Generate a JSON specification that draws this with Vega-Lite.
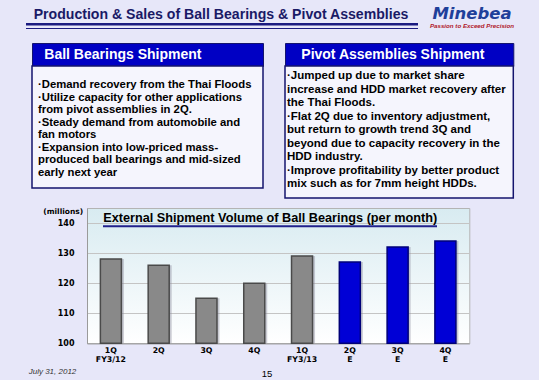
{
  "$schema": "https://vega.github.io/schema/vega-lite/v6.json",
  "background": "#e7e7f9",
  "padding": 0,
  "spacing": 0,
  "bounds": "full",
  "data": {"values": [{}]},
  "config": {"view": {"stroke": null}, "font": "Liberation Sans", "concat": {"spacing": 0}},
  "vconcat": [
    {
      "hconcat": [
        {"width": 26, "height": 42, "mark": {"type": "rect", "opacity": 0}},
        {
          "vconcat": [
            {"width": 392, "height": 23, "data": {"values": [{"t": "Production & Sales of Ball Bearings & Pivot Assemblies"}]},
             "mark": {"type": "text", "fontWeight": "bold", "fontSize": 14.1, "color": "#1a1a66", "baseline": "middle", "dy": 3, "dx": -1},
             "encoding": {"text": {"field": "t"}}},
            {"width": 392, "height": 2.4, "view": {"fill": "#1a1a80"}, "mark": {"type": "rect", "opacity": 0}},
            {"width": 392, "height": 1.2, "mark": {"type": "rect", "opacity": 0}},
            {"width": 392, "height": 1, "view": {"fill": "#1a1a80"}, "mark": {"type": "rect", "opacity": 0}}
          ],
          "spacing": 0, "bounds": "flush"
        },
        {"width": 11, "height": 42, "mark": {"type": "rect", "opacity": 0}},
        {
          "width": 84, "height": 31,
          "layer": [
            {"data": {"values": [{"t": "Minebea"}]},
             "mark": {"type": "text", "font": "DejaVu Sans", "fontWeight": "bold", "fontStyle": "italic", "fontSize": 16.5, "color": "#1f3f9a", "baseline": "middle", "dy": -2},
             "encoding": {"text": {"field": "t"}}},
            {"data": {"values": [{"t": "Passion to Exceed Precision"}]},
             "mark": {"type": "text", "fontWeight": "bold", "fontStyle": "italic", "fontSize": 6.2, "color": "#b0182a", "baseline": "middle", "dy": 10.2},
             "encoding": {"text": {"field": "t"}}}
          ]
        },
        {"width": 26, "height": 42, "mark": {"type": "rect", "opacity": 0}}
      ],
      "spacing": 0, "bounds": "full"
    },
    {
      "hconcat": [
        {"width": 30.7, "height": 10, "mark": {"type": "rect", "opacity": 0}},
        {
          "vconcat": [
            {"width": 231, "height": 23, "view": {"fill": "#0000c4", "stroke": "#14146e", "strokeWidth": 1},
             "data": {"values": [{"t": "Ball Bearings Shipment"}]},
             "mark": {"type": "text", "align": "left", "baseline": "middle", "x": 12.3, "fontSize": 14, "fontWeight": "bold", "color": "#ffffff"},
             "encoding": {"text": {"field": "t"}}},
            {"width": 231, "height": 122, "view": {"fill": "#f5f5fd", "stroke": "#14146e", "strokeWidth": 1.5},
             "data": {"values": [
               {"i": 0, "t": "·Demand recovery from the Thai Floods"},
               {"i": 1, "t": "·Utilize  capacity for other applications"},
               {"i": 2, "t": "from pivot assemblies in 2Q."},
               {"i": 3, "t": "·Steady demand from automobile and"},
               {"i": 4, "t": "fan motors"},
               {"i": 5, "t": "·Expansion into low-priced mass-"},
               {"i": 6, "t": "produced ball bearings and mid-sized"},
               {"i": 7, "t": "early next year"}
             ]},
             "mark": {"type": "text", "align": "left", "baseline": "middle", "x": 6, "fontSize": 11.3, "fontWeight": "bold", "color": "#000000"},
             "encoding": {
               "y": {"field": "i", "type": "quantitative", "scale": {"domain": [-1.516, 8.221], "reverse": true, "nice": false, "zero": false}, "axis": null},
               "text": {"field": "t"}
             }}
          ],
          "spacing": 0, "bounds": "flush"
        },
        {"width": 20, "height": 10, "mark": {"type": "rect", "opacity": 0}},
        {
          "vconcat": [
            {"width": 228.3, "height": 23, "view": {"fill": "#0000c4", "stroke": "#14146e", "strokeWidth": 1},
             "data": {"values": [{"t": "Pivot Assemblies Shipment"}]},
             "mark": {"type": "text", "align": "left", "baseline": "middle", "x": 16.3, "fontSize": 14, "fontWeight": "bold", "color": "#ffffff"},
             "encoding": {"text": {"field": "t"}}},
            {"width": 228.3, "height": 132, "view": {"fill": "#f5f5fd", "stroke": "#14146e", "strokeWidth": 1.5},
             "data": {"values": [
               {"i": 0, "t": "·Jumped up due to market share"},
               {"i": 1, "t": "increase and HDD market recovery after"},
               {"i": 2, "t": "the Thai Floods."},
               {"i": 3, "t": "·Flat 2Q due to inventory adjustment,"},
               {"i": 4, "t": "but return to growth trend 3Q and"},
               {"i": 5, "t": "beyond due to capacity recovery in the"},
               {"i": 6, "t": "HDD industry."},
               {"i": 7, "t": "·Improve profitability by better product"},
               {"i": 8, "t": "mix such as for 7mm height HDDs."}
             ]},
             "mark": {"type": "text", "align": "left", "baseline": "middle", "x": 2, "fontSize": 11.5, "fontWeight": "bold", "color": "#000000"},
             "encoding": {
               "y": {"field": "i", "type": "quantitative", "scale": {"domain": [-0.7386, 9.01], "reverse": true, "nice": false, "zero": false}, "axis": null},
               "text": {"field": "t"}
             }}
          ],
          "spacing": 0, "bounds": "flush"
        }
      ],
      "spacing": 0, "bounds": "full"
    },
    {"width": 539, "height": 6.4, "mark": {"type": "rect", "opacity": 0}},
    {
      "hconcat": [
        {"width": 86.7, "height": 158, "mark": {"type": "rect", "opacity": 0}},
        {
          "width": 382.3, "height": 135.3,
          "view": {"stroke": "#b4b4b4", "fill": {"gradient": "linear", "x1": 0, "y1": 0, "x2": 0, "y2": 1, "stops": [{"offset": 0, "color": "#d8ebf1"}, {"offset": 1, "color": "#ffffff"}]}},
          "layer": [
            {"data": {"name": "bars"},
             "mark": {"type": "bar", "color": "#8f8f9f", "opacity": 0.45, "xOffset": 2.5},
             "encoding": {
               "x": {"field": "q", "type": "nominal", "sort": null, "scale": {"paddingInner": 0.56},
                     "axis": {"title": null, "labelExpr": "split(datum.label, '|')", "labelAngle": 0, "ticks": false, "labelPadding": 3.5,
                              "labelFont": "DejaVu Sans", "labelFontWeight": "bold", "labelFontSize": 7.8, "labelLineHeight": 8.5,
                              "labelColor": "#000000", "domainColor": "#9a9a9a"}},
               "y": {"field": "v", "type": "quantitative", "scale": {"domain": [100, 145], "zero": false, "nice": false},
                     "axis": {"values": [100, 110, 120, 130, 140], "labelOverlap": false, "title": "(millions)", "titleAngle": 0, "titleAlign": "right", "titleX": -4.3, "titleY": 3,
                              "titleBaseline": "middle", "titleFont": "DejaVu Sans", "titleFontSize": 7.5, "titleFontWeight": "bold", "titleColor": "#000000",
                              "labelFont": "DejaVu Sans", "labelFontWeight": "bold", "labelFontSize": 8, "labelPadding": 13, "labelColor": "#000000",
                              "ticks": false, "domainColor": "#9a9a9a", "gridColor": "#c4c4c4"}},
               "y2": {"datum": 100}
             }},
            {"data": {"name": "bars"},
             "mark": {"type": "bar", "strokeWidth": 1.5},
             "encoding": {
               "x": {"field": "q", "type": "nominal", "sort": null, "scale": {"paddingInner": 0.56},
                     "axis": {"title": null, "labelExpr": "split(datum.label, '|')", "labelAngle": 0, "ticks": false, "labelPadding": 3.5,
                              "labelFont": "DejaVu Sans", "labelFontWeight": "bold", "labelFontSize": 7.8, "labelLineHeight": 8.5,
                              "labelColor": "#000000", "domainColor": "#9a9a9a"}},
               "y": {"field": "v", "type": "quantitative", "scale": {"domain": [100, 145], "zero": false, "nice": false},
                     "axis": {"values": [100, 110, 120, 130, 140], "labelOverlap": false, "title": "(millions)", "titleAngle": 0, "titleAlign": "right", "titleX": -4.3, "titleY": 3,
                              "titleBaseline": "middle", "titleFont": "DejaVu Sans", "titleFontSize": 7.5, "titleFontWeight": "bold", "titleColor": "#000000",
                              "labelFont": "DejaVu Sans", "labelFontWeight": "bold", "labelFontSize": 8, "labelPadding": 13, "labelColor": "#000000",
                              "ticks": false, "domainColor": "#9a9a9a", "gridColor": "#c4c4c4"}},
               "y2": {"datum": 100},
               "color": {"field": "kind", "type": "nominal", "scale": {"domain": ["Actual", "Estimate"], "range": ["#898989", "#0000d6"]}, "legend": null},
               "stroke": {"field": "kind", "type": "nominal", "scale": {"domain": ["Actual", "Estimate"], "range": ["#4a4a4a", "#000078"]}, "legend": null}
             }},
            {"data": {"values": [{"t": "External Shipment Volume of Ball Bearings (per month)"}]},
             "mark": {"type": "text", "fontSize": 12.7, "fontWeight": "bold", "color": "#000000", "baseline": "alphabetic", "dx": -8},
             "encoding": {
               "y": {"datum": 140.5, "type": "quantitative",
                     "axis": {"values": [100, 110, 120, 130, 140], "labelOverlap": false, "title": "(millions)", "titleAngle": 0, "titleAlign": "right", "titleX": -4.3, "titleY": 3,
                              "titleBaseline": "middle", "titleFont": "DejaVu Sans", "titleFontSize": 7.5, "titleFontWeight": "bold", "titleColor": "#000000",
                              "labelFont": "DejaVu Sans", "labelFontWeight": "bold", "labelFontSize": 8, "labelPadding": 13, "labelColor": "#000000",
                              "ticks": false, "domainColor": "#9a9a9a", "gridColor": "#c4c4c4"}},
               "text": {"field": "t"}}},
            {"data": {"values": [{}]},
             "mark": {"type": "rule", "color": "#20208c", "strokeWidth": 2},
             "encoding": {
               "y": {"datum": 138.9, "type": "quantitative",
                     "axis": {"values": [100, 110, 120, 130, 140], "labelOverlap": false, "title": "(millions)", "titleAngle": 0, "titleAlign": "right", "titleX": -4.3, "titleY": 3,
                              "titleBaseline": "middle", "titleFont": "DejaVu Sans", "titleFontSize": 7.5, "titleFontWeight": "bold", "titleColor": "#000000",
                              "labelFont": "DejaVu Sans", "labelFontWeight": "bold", "labelFontSize": 8, "labelPadding": 13, "labelColor": "#000000",
                              "ticks": false, "domainColor": "#9a9a9a", "gridColor": "#c4c4c4"}},
               "x": {"value": 16}, "x2": {"value": 350}}}
          ]
        }
      ],
      "spacing": 0, "bounds": "flush"
    },
    {
      "hconcat": [
        {"width": 30, "height": 14.3, "mark": {"type": "rect", "opacity": 0}},
        {"width": 45, "height": 14.3, "data": {"values": [{"t": "July 31, 2012"}]},
         "mark": {"type": "text", "fontStyle": "italic", "fontSize": 8, "color": "#333333", "baseline": "middle", "dy": -1.2},
         "encoding": {"text": {"field": "t"}}},
        {"width": 187, "height": 14.3, "mark": {"type": "rect", "opacity": 0}},
        {"width": 10, "height": 14.3, "data": {"values": [{"t": "15"}]},
         "mark": {"type": "text", "fontSize": 9.5, "color": "#000000", "baseline": "middle", "dy": 0.5},
         "encoding": {"text": {"field": "t"}}}
      ],
      "spacing": 0, "bounds": "flush"
    }
  ],
  "datasets": {
    "bars": [
      {"q": "1Q|FY3/12", "v": 128, "kind": "Actual"},
      {"q": "2Q", "v": 126, "kind": "Actual"},
      {"q": "3Q", "v": 115, "kind": "Actual"},
      {"q": "4Q", "v": 120, "kind": "Actual"},
      {"q": "1Q|FY3/13", "v": 129, "kind": "Actual"},
      {"q": "2Q|E", "v": 127, "kind": "Estimate"},
      {"q": "3Q|E", "v": 132, "kind": "Estimate"},
      {"q": "4Q|E", "v": 134, "kind": "Estimate"}
    ]
  }
}
